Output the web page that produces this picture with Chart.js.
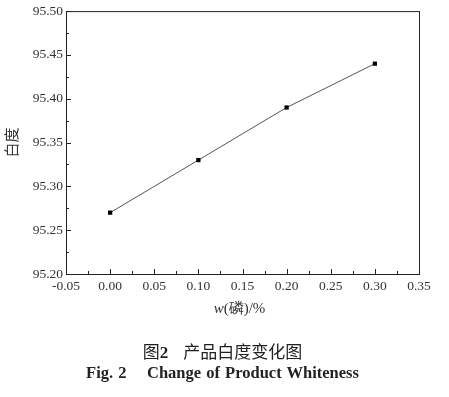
<!DOCTYPE html>
<html>
<head>
<meta charset="utf-8">
<script src="https://cdn.jsdelivr.net/npm/chart.js@4"></script>
<style>
  body { margin: 0; background: #fff; }
  #wrap { position: relative; width: 449px; height: 397px; }
  #chart { position: absolute; left: 0; top: 0; }
  .cap { position: absolute; left: 0; width: 449px; text-align: center; color: #222; }
  #xtitle { top: 299px; left: 15px; font: 15px "Liberation Serif", serif; color: #333; }
  #cn { top: 338px; left: -2px; font: 17px "Noto Sans CJK SC", sans-serif; font-weight: 400; }
  #en { top: 363px; left: -2px; font: bold 16.5px "Liberation Serif", serif; word-spacing: 1px; }
</style>
</head>
<body>
<div id="wrap">
  <canvas id="chart" width="449" height="397"></canvas>
  <div class="cap" id="xtitle"><i>w</i>(磷)/%</div>
  <div class="cap" id="cn">图<b style="font-family:'Liberation Serif',serif">2</b>&nbsp;&nbsp;&nbsp;&nbsp;产品白度变化图</div>
  <div class="cap" id="en">Fig. 2&nbsp;&nbsp;&nbsp;&nbsp;Change of Product Whiteness</div>
</div>
<script>
const phosphorus = [0.0, 0.1, 0.2, 0.3];
const whiteness = [95.27, 95.33, 95.39, 95.44];
const xTicks = [-0.05, 0.0, 0.05, 0.1, 0.15, 0.2, 0.25, 0.3, 0.35];
const yTicks = [95.2, 95.25, 95.3, 95.35, 95.4, 95.45, 95.5];

const serif = "'Liberation Serif', 'Times New Roman', serif";

function isMajor(v, step) {
  const r = v / step;
  return Math.abs(r - Math.round(r)) < 1e-6;
}

// frame plus inward tick marks, major and minor
const framePlugin = {
  id: "frame",
  afterDraw(chart) {
    const { ctx, chartArea: a, scales } = chart;
    ctx.save();
    ctx.strokeStyle = "#222";
    ctx.lineWidth = 1;
    ctx.strokeRect(a.left + 0.5, a.top + 0.5, a.right - a.left, a.bottom - a.top);
    ctx.beginPath();
    for (const t of scales.x.ticks) {
      const px = Math.round(scales.x.getPixelForValue(t.value)) + 0.5;
      const len = isMajor(t.value, 0.05) ? 5 : 3;
      ctx.moveTo(px, a.bottom);
      ctx.lineTo(px, a.bottom - len);
    }
    for (const t of scales.y.ticks) {
      const py = Math.round(scales.y.getPixelForValue(t.value)) + 0.5;
      const len = isMajor(t.value - 95, 0.05) ? 5 : 3;
      ctx.moveTo(a.left, py);
      ctx.lineTo(a.left + len, py);
    }
    ctx.stroke();
    ctx.restore();
  },
};

new Chart(document.getElementById("chart"), {
  type: "line",
  data: {
    datasets: [
      {
        data: phosphorus.map((x, i) => ({ x, y: whiteness[i] })),
        borderColor: "#555",
        borderWidth: 1,
        pointStyle: "rect",
        pointRadius: 3,
        pointBackgroundColor: "#000",
        pointBorderColor: "#000",
        pointBorderWidth: 0,
        tension: 0,
      },
    ],
  },
  options: {
    responsive: false,
    animation: false,
    layout: { padding: { left: 0, top: 11, right: 30, bottom: 80 } },
    plugins: { legend: { display: false }, tooltip: { enabled: false } },
    scales: {
      x: {
        type: "linear",
        min: xTicks[0],
        max: xTicks[xTicks.length - 1],
        afterBuildTicks: (s) => {
          const t = [];
          for (let i = 0; i < xTicks.length; i++) {
            t.push({ value: xTicks[i] });
            if (i < xTicks.length - 1) t.push({ value: (xTicks[i] + xTicks[i + 1]) / 2 });
          }
          s.ticks = t;
        },
        afterFit: (s) => { s.height = 43; },
        border: { display: false },
        grid: { display: false, drawTicks: false },
        ticks: {
          autoSkip: false,
          maxRotation: 0,
          padding: 4,
          color: "#333",
          font: { family: serif, size: 13.5 },
          callback: (v) => (isMajor(v, 0.05) ? v.toFixed(2) : ""),
        },
      },
      y: {
        min: yTicks[0],
        max: yTicks[yTicks.length - 1],
        afterBuildTicks: (s) => {
          const t = [];
          for (let i = 0; i < yTicks.length; i++) {
            t.push({ value: yTicks[i] });
            if (i < yTicks.length - 1) t.push({ value: (yTicks[i] + yTicks[i + 1]) / 2 });
          }
          s.ticks = t;
        },
        afterFit: (s) => { s.width = 66; },
        border: { display: false },
        grid: { display: false, drawTicks: false },
        title: {
          display: true,
          text: "白度",
          color: "#333",
          font: { family: "'Noto Sans CJK SC', sans-serif", size: 15 },
          padding: { top: 2, bottom: 4 },
        },
        ticks: {
          autoSkip: false,
          padding: 3,
          color: "#333",
          font: { family: serif, size: 13.5 },
          callback: (v) => (isMajor(v - 95, 0.05) ? v.toFixed(2) : ""),
        },
      },
    },
  },
  plugins: [framePlugin],
});
</script>
</body>
</html>
